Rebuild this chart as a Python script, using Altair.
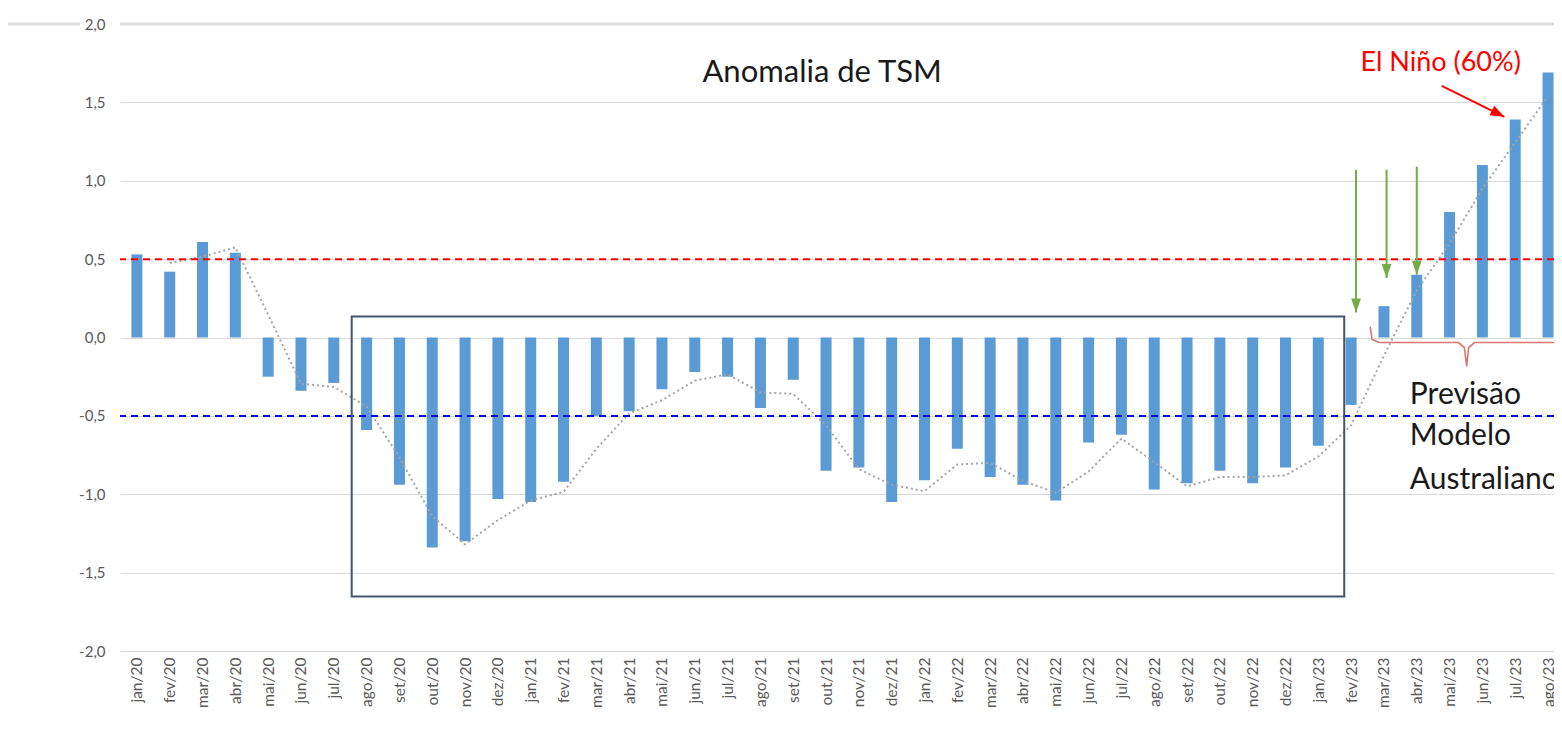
import altair as alt
import pandas as pd

# ---------------- data ----------------
months = [
    "jan/20", "fev/20", "mar/20", "abr/20", "mai/20", "jun/20", "jul/20", "ago/20", "set/20", "out/20", "nov/20", "dez/20",
    "jan/21", "fev/21", "mar/21", "abr/21", "mai/21", "jun/21", "jul/21", "ago/21", "set/21", "out/21", "nov/21", "dez/21",
    "jan/22", "fev/22", "mar/22", "abr/22", "mai/22", "jun/22", "jul/22", "ago/22", "set/22", "out/22", "nov/22", "dez/22",
    "jan/23", "fev/23", "mar/23", "abr/23", "mai/23", "jun/23", "jul/23", "ago/23",
]
anomaly = [
    0.53, 0.42, 0.61, 0.54, -0.25, -0.34, -0.29, -0.59, -0.94, -1.34, -1.30, -1.03,
    -1.05, -0.92, -0.50, -0.47, -0.33, -0.22, -0.25, -0.45, -0.27, -0.85, -0.83, -1.05,
    -0.91, -0.71, -0.89, -0.94, -1.04, -0.67, -0.62, -0.97, -0.93, -0.85, -0.93, -0.83,
    -0.69, -0.43, 0.20, 0.40, 0.80, 1.10, 1.39, 1.69,
]
y_ticks = [-2.0, -1.5, -1.0, -0.5, 0.0, 0.5, 1.0, 1.5, 2.0]
thresholds = [0.5, -0.5]
threshold_colors = ["#ff0000", "#0000ff"]

# La Niña box (month index units / anomaly units)
box_x = [6.545, 36.79]
box_y = [0.134, -1.652]

# green arrows
green_x = [37.15, 38.08, 39.0]
green_y_start = [1.07, 1.07, 1.09]
green_y_tip = [0.16, 0.38, 0.40]

# red arrow
red_x = [39.76, 41.67]
red_y = [1.605, 1.408]

# forecast bracket
brace_x = [37.58, 37.64, 37.85, 40.27, 40.45, 40.52, 40.58, 40.76, 43.9]
brace_y = [0.07, -0.013, -0.032, -0.032, -0.064, -0.185, -0.064, -0.032, -0.032]

# texts
title_text = ["Anomalia de TSM"]
title_pos = [20.88, 1.69]
nino_text = ["El Niño (60%)"]
nino_pos = [39.73, 1.754]
forecast_lines = ["Previsão", "Modelo", "Australiano"]
forecast_x = 38.79
forecast_y = [-0.364, -0.631, -0.906]

# ---------------- chart ----------------
W, H = 1434, 627
x0, span = -0.515, 43.697
xs = alt.Scale(domain=[x0, x0 + span], nice=False, zero=False, padding=0)
ys = alt.Scale(domain=[-2, 2], nice=False, zero=False, padding=0)
FONT = "Lato"

df = pd.DataFrame({"idx": list(range(len(months))), "month": months, "value": anomaly})

label_array = "[" + ",".join("'" + m + "'" for m in months) + "]"
x_axis = alt.Axis(
    values=list(range(len(months))),
    labelExpr=label_array + "[datum.value]",
    labelAngle=270,
    labelFontSize=15.5,
    labelFont=FONT,
    labelColor="#595959",
    labelPadding=6,
    labelOverlap=False,
    labelFlush=False,
    grid=False,
    ticks=False,
    domain=False,
    title=None,
)
y_axis = alt.Axis(
    values=y_ticks,
    labelExpr="replace(replace(format(datum.value, '.1f'), '.', ','), '\u2212', '-')",
    labelFontSize=15,
    labelFont=FONT,
    labelColor="#595959",
    labelPadding=15,
    labelOverlap=False,
    labelFlush=False,
    grid=True,
    gridColor="#d9d9d9",
    gridWidth=1,
    ticks=False,
    domain=False,
    title=None,
)


def X(field):
    return alt.X(field, scale=xs, axis=x_axis)


def Y(field):
    return alt.Y(field, scale=ys, axis=y_axis)


top_line = alt.Chart(pd.DataFrame({"y": [2.0]})).mark_rule(color="#dcdcdc", strokeWidth=3).encode(
    y=Y("y:Q"), x=alt.value(0), x2=alt.value(W),
)
top_line_left = alt.Chart(pd.DataFrame({"y": [2.0]})).mark_rule(color="#dcdcdc", strokeWidth=3).encode(
    y=Y("y:Q"), x=alt.value(-120), x2=alt.value(-40),
)

bars = alt.Chart(df).mark_bar(width=11, color="#5b9bd5").encode(x=X("idx:Q"), y=Y("value:Q"))

ma = (
    alt.Chart(df)
    .transform_window(ma="mean(value)", frame=[-1, 0], sort=[alt.SortField("idx")])
    .transform_filter("datum.idx >= 1")
    .mark_line(color="#a5a5a5", strokeDash=[2, 3], strokeWidth=2)
    .encode(x=X("idx:Q"), y=Y("ma:Q"))
)

thr = alt.Chart(pd.DataFrame({"y": thresholds, "c": threshold_colors})).mark_rule(
    strokeDash=[7, 5], strokeWidth=2
).encode(y=Y("y:Q"), color=alt.Color("c:N", scale=None))

box = alt.Chart(pd.DataFrame({"x": [box_x[0]], "x2": [box_x[1]], "y": [box_y[0]], "y2": [box_y[1]]})).mark_rect(
    fillOpacity=0, stroke="#44546a", strokeWidth=2
).encode(x=X("x:Q"), x2="x2:Q", y=Y("y:Q"), y2="y2:Q")

gdf = pd.DataFrame({"x": green_x, "y": green_y_start, "y2": green_y_tip})
green_lines = alt.Chart(gdf).mark_rule(color="#70ad47", strokeWidth=2).encode(
    x=X("x:Q"), y=Y("y:Q"), y2=alt.Y2("y2:Q")
)
green_heads = alt.Chart(gdf).mark_point(
    shape="M0,0L-0.35,-1L0.35,-1Z", filled=True, size=784, color="#70ad47", opacity=1, strokeWidth=0
).encode(x=X("x:Q"), y=Y("y2:Q"))

rdf = pd.DataFrame({"x": [red_x[0]], "x2": [red_x[1]], "y": [red_y[0]], "y2": [red_y[1]]})
red_line = alt.Chart(rdf).mark_rule(color="#ff0000", strokeWidth=2).encode(
    x=X("x:Q"), x2="x2:Q", y=Y("y:Q"), y2="y2:Q"
)
red_head = alt.Chart(rdf).mark_point(
    shape="M0,0L-1,-0.38L-1,0.38Z", filled=True, size=784, color="#ff0000", opacity=1, strokeWidth=0, angle=26.6
).encode(x=X("x2:Q"), y=Y("y2:Q"))

brace = alt.Chart(pd.DataFrame({"x": brace_x, "y": brace_y, "o": list(range(len(brace_x)))})).mark_line(
    color="#d9776f", strokeWidth=1.6
).encode(x=X("x:Q"), y=Y("y:Q"), order="o:Q")

title = alt.Chart(pd.DataFrame({"x": [title_pos[0]], "y": [title_pos[1]], "t": title_text})).mark_text(
    font=FONT, fontSize=31, color="#1a1a1a", align="center", baseline="middle"
).encode(x=X("x:Q"), y=Y("y:Q"), text="t:N")

nino = alt.Chart(pd.DataFrame({"x": [nino_pos[0]], "y": [nino_pos[1]], "t": nino_text})).mark_text(
    font=FONT, fontSize=27, color="#ff0000", align="center", baseline="middle"
).encode(x=X("x:Q"), y=Y("y:Q"), text="t:N")

forecast = alt.Chart(
    pd.DataFrame({"x": [forecast_x] * len(forecast_lines), "y": forecast_y, "t": forecast_lines})
).mark_text(font=FONT, fontSize=30, color="#1a1a1a", align="left", baseline="middle").encode(
    x=X("x:Q"), y=Y("y:Q"), text="t:N"
)

chart = (
    alt.layer(
        top_line, top_line_left, bars, ma, thr, box, green_lines, green_heads,
        red_line, red_head, brace, title, nino, forecast,
    )
    .properties(
        width=W,
        height=H,
        autosize=alt.AutoSizeParams(type="none"),
        padding={"left": 112, "top": 16, "right": 0, "bottom": 70},
        background="white",
    )
    .configure_view(stroke=None)
)

chart.save("out.html", embed_options={"renderer": "svg", "actions": False})
